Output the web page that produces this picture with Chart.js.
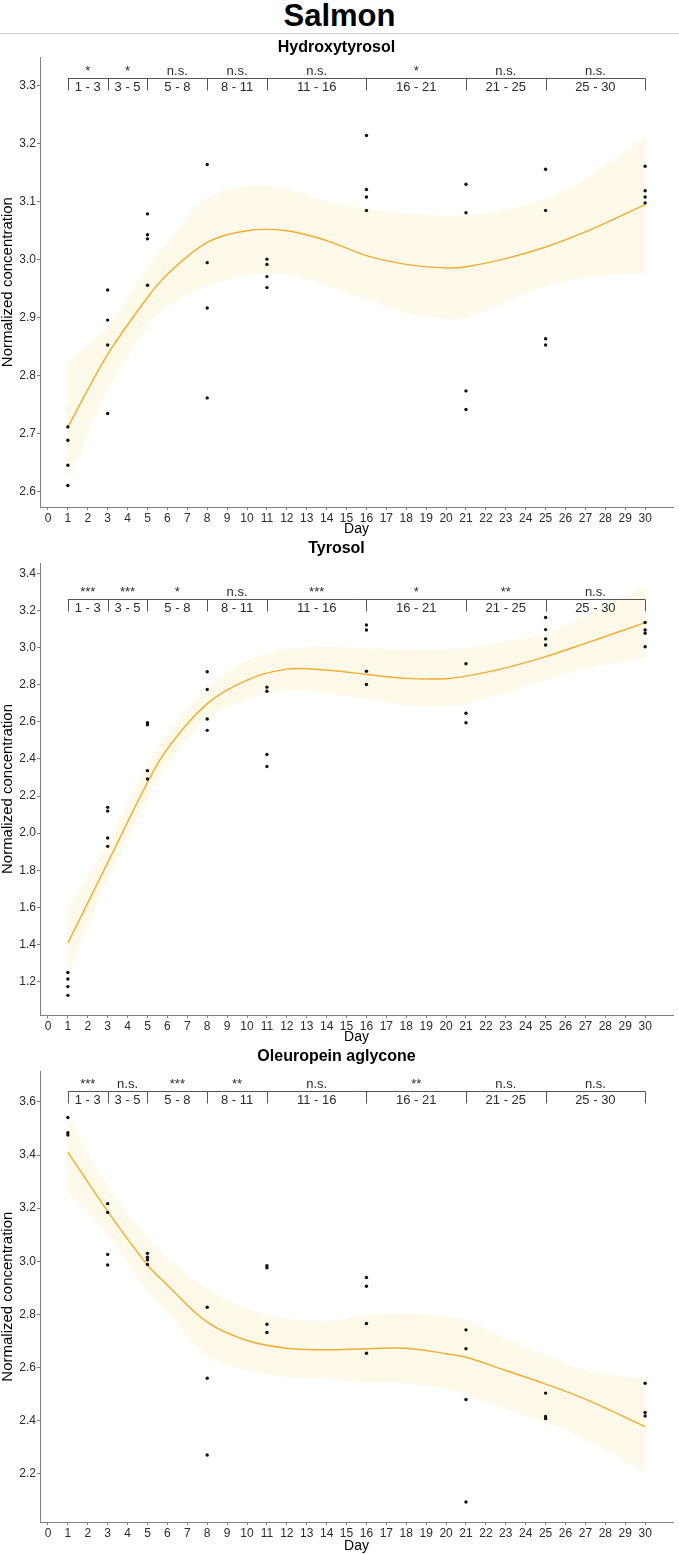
<!DOCTYPE html>
<html lang="en">
<head>
<meta charset="UTF-8">
<title>Salmon</title>
<script src="https://cdn.jsdelivr.net/npm/chart.js"></script>
<style>
    body {
        margin: 0;
        background: #fff;
        font-family: "Liberation Sans", Arial, sans-serif;
    }
    #page {
        position: relative;
        width: 679px;
        height: 1554px;
        overflow: hidden;
    }
    #main-title {
        position: absolute;
        top: 0;
        left: 0;
        width: 679px;
        text-align: center;
        font-size: 31px;
        font-weight: bold;
        line-height: 32px;
        color: #000;
    }
    #rule {
        position: absolute;
        top: 33px;
        left: 0;
        width: 679px;
        height: 1px;
        background: #cfcfcf;
    }
    .panel {
        position: absolute;
        left: 0;
        width: 679px;
    }
</style>
</head>
<body>
<div id="page">
    <div id="main-title">Salmon</div>
    <div id="rule"></div>
    <div class="panel" style="top:36px;height:501px;"><canvas id="htChart"></canvas></div>
    <div class="panel" style="top:537px;height:508px;"><canvas id="tyChart"></canvas></div>
    <div class="panel" style="top:1045px;height:509px;"><canvas id="olChart"></canvas></div>
</div>

<script>
    // sampling days and replicate values (one inner array per day)
    const obsDays = [1, 3, 5, 8, 11, 16, 21, 25, 30];

    const htObs = [
        [2.712, 2.689, 2.646, 2.611],
        [2.948, 2.896, 2.853, 2.735],
        [3.079, 3.043, 3.036, 2.956],
        [3.164, 2.995, 2.917, 2.762],
        [3.001, 2.992, 2.971, 2.952],
        [3.214, 3.121, 3.108, 3.085],
        [3.130, 3.081, 2.774, 2.742],
        [3.156, 3.085, 2.864, 2.853],
        [3.161, 3.119, 3.108, 3.098]
    ];
    const tyObs = [
        [1.249, 1.214, 1.173, 1.126],
        [2.139, 2.119, 1.974, 1.929],
        [2.595, 2.584, 2.337, 2.292],
        [2.870, 2.774, 2.615, 2.554],
        [2.787, 2.765, 2.424, 2.359],
        [3.122, 3.095, 2.873, 2.801],
        [2.913, 2.646, 2.595],
        [3.162, 3.097, 3.047, 3.014],
        [3.135, 3.095, 3.077, 3.005]
    ];
    const olObs = [
        [3.541, 3.484, 3.475],
        [3.217, 3.184, 3.026, 2.986],
        [3.030, 3.015, 3.006, 2.988],
        [2.827, 2.560, 2.271],
        [2.983, 2.976, 2.763, 2.732],
        [2.939, 2.906, 2.766, 2.654],
        [2.742, 2.671, 2.480, 2.094],
        [2.504, 2.416, 2.408],
        [2.541, 2.431, 2.418]
    ];

    // smoothed trend and confidence band, read at these days
    const fitDays = [1, 3, 5, 6, 8, 10, 12, 14, 16, 18, 20, 21, 23, 25, 27, 30];

    const htFit   = [2.712, 2.837, 2.935, 2.975, 3.030, 3.050, 3.050, 3.033, 3.007, 2.992, 2.986, 2.988, 3.002, 3.022, 3.048, 3.095];
    const htUpper = [2.823, 2.885, 2.985, 3.030, 3.105, 3.127, 3.122, 3.100, 3.088, 3.080, 3.076, 3.077, 3.085, 3.105, 3.140, 3.211];
    const htLower = [2.620, 2.775, 2.885, 2.920, 2.955, 2.973, 2.975, 2.955, 2.932, 2.909, 2.898, 2.900, 2.927, 2.955, 2.970, 2.978];

    const tyFit   = [1.408, 1.841, 2.274, 2.455, 2.698, 2.825, 2.884, 2.879, 2.855, 2.834, 2.832, 2.846, 2.891, 2.951, 3.023, 3.135];
    const tyUpper = [1.588, 1.949, 2.364, 2.530, 2.779, 2.930, 2.990, 3.005, 2.996, 2.988, 2.990, 2.996, 3.030, 3.077, 3.177, 3.330];
    const tyLower = [1.245, 1.751, 2.184, 2.370, 2.617, 2.720, 2.770, 2.755, 2.725, 2.690, 2.685, 2.698, 2.760, 2.825, 2.888, 2.942];

    const olFit   = [3.411, 3.188, 2.986, 2.910, 2.771, 2.702, 2.673, 2.667, 2.671, 2.673, 2.652, 2.639, 2.589, 2.538, 2.481, 2.378];
    const olUpper = [3.547, 3.282, 3.087, 3.010, 2.898, 2.820, 2.785, 2.775, 2.797, 2.803, 2.790, 2.778, 2.708, 2.645, 2.589, 2.557];
    const olLower = [3.263, 3.099, 2.891, 2.810, 2.645, 2.590, 2.565, 2.557, 2.544, 2.540, 2.520, 2.500, 2.444, 2.393, 2.330, 2.204];

    // pairwise comparison brackets
    const segments = [[1, 3], [3, 5], [5, 8], [8, 11], [11, 16], [16, 21], [21, 25], [25, 30]];
    const htSig = ['*', '*', 'n.s.', 'n.s.', 'n.s.', '*', 'n.s.', 'n.s.'];
    const tySig = ['***', '***', '*', 'n.s.', '***', '*', '**', 'n.s.'];
    const olSig = ['***', 'n.s.', '***', '**', 'n.s.', '**', 'n.s.', 'n.s.'];

    // axis ticks
    const xTickVals = Array.from({ length: 31 }, (_, i) => i);
    const htTicks = [2.6, 2.7, 2.8, 2.9, 3.0, 3.1, 3.2, 3.3];
    const tyTicks = [1.2, 1.4, 1.6, 1.8, 2.0, 2.2, 2.4, 2.6, 2.8, 3.0, 3.2, 3.4];
    const olTicks = [2.2, 2.4, 2.6, 2.8, 3.0, 3.2, 3.4, 3.6];

    const FONT = '"Liberation Sans", Arial, sans-serif';
    const AXIS_GREY = '#7f7f7f';
    const TEXT = '#2b2b2b';

    // draws the comparison brackets through the chart scales
    const bracketPlugin = {
        id: 'brackets',
        afterDatasetsDraw(chart, args, opts) {
            const { ctx } = chart;
            const x = chart.scales.x;
            const y = chart.scales.y;
            const lineY = Math.round(y.getPixelForValue(opts.level)) + 0.5;
            const x0 = x.getPixelForValue(segments[0][0]);
            const x1 = x.getPixelForValue(segments[segments.length - 1][1]);
            ctx.save();
            ctx.strokeStyle = '#555';
            ctx.lineWidth = 1;
            ctx.beginPath();
            ctx.moveTo(x0, lineY);
            ctx.lineTo(x1, lineY);
            const bounds = [segments[0][0]].concat(segments.map(s => s[1]));
            bounds.forEach(d => {
                const px = Math.round(x.getPixelForValue(d)) + 0.5;
                ctx.moveTo(px, lineY);
                ctx.lineTo(px, lineY + 12);
            });
            ctx.stroke();

            ctx.fillStyle = TEXT;
            ctx.textAlign = 'center';
            ctx.font = '13px ' + FONT;
            segments.forEach((s, i) => {
                const cx = (x.getPixelForValue(s[0]) + x.getPixelForValue(s[1])) / 2;
                ctx.textBaseline = 'middle';
                ctx.fillText(s[0] + ' - ' + s[1], cx, lineY + 8.5);
                const sig = opts.sig[i];
                ctx.textBaseline = 'alphabetic';
                if (sig.indexOf('*') >= 0) {
                    ctx.fillText(sig, cx, lineY - 4);
                } else {
                    ctx.fillText(sig, cx, lineY - 4);
                }
            });
            ctx.restore();
        }
    };

    const makeChart = (canvasId, title, obs, fit, upper, lower, yMin, yMax, yTicks, sig, level, titlePadBottom, xAxisHeight) => {
        const points = [];
        obsDays.forEach((d, i) => {
            obs[i].forEach(v => points.push({ x: d, y: v }));
        });
        const toXY = arr => fitDays.map((d, i) => ({ x: d, y: arr[i] }));

        return new Chart(document.getElementById(canvasId), {
            type: 'line',
            data: {
                datasets: [
                    {
                        data: toXY(upper),
                        borderWidth: 0,
                        borderColor: 'rgba(0,0,0,0)',
                        backgroundColor: 'rgba(252, 231, 170, 0.27)',
                        pointRadius: 0,
                        fill: '+1',
                        tension: 0.35,
                        order: 3
                    },
                    {
                        data: toXY(lower),
                        borderWidth: 0,
                        borderColor: 'rgba(0,0,0,0)',
                        pointRadius: 0,
                        fill: false,
                        tension: 0.35,
                        order: 3
                    },
                    {
                        data: toXY(fit),
                        borderColor: '#f0ad30',
                        borderWidth: 1.4,
                        pointRadius: 0,
                        fill: false,
                        tension: 0.35,
                        order: 2
                    },
                    {
                        type: 'scatter',
                        data: points,
                        backgroundColor: '#111',
                        borderWidth: 0,
                        pointRadius: 1.7,
                        showLine: false,
                        order: 1
                    }
                ]
            },
            options: {
                responsive: true,
                maintainAspectRatio: false,
                animation: false,
                events: [],
                layout: { padding: { left: 0, right: 6, top: 0, bottom: 0 } },
                plugins: {
                    legend: { display: false },
                    tooltip: { enabled: false },
                    title: {
                        display: true,
                        text: title,
                        color: '#000',
                        font: { family: FONT, size: 16, weight: 'bold', lineHeight: 1.2 },
                        padding: { top: 2, bottom: titlePadBottom }
                    },
                    brackets: { sig: sig, level: level }
                },
                scales: {
                    x: {
                        type: 'linear',
                        min: -0.4,
                        max: 31.4,
                        afterBuildTicks: s => { s.ticks = xTickVals.map(v => ({ value: v })); },
                        afterFit: s => { s.height = xAxisHeight; },
                        grid: { drawOnChartArea: false, drawTicks: true, tickLength: 3, color: AXIS_GREY },
                        border: { color: AXIS_GREY, width: 1 },
                        ticks: {
                            color: TEXT,
                            padding: 1,
                            maxRotation: 0,
                            autoSkip: false,
                            font: { family: FONT, size: 12 },
                            callback: v => String(v)
                        },
                        title: {
                            display: true,
                            text: 'Day',
                            color: '#000',
                            font: { family: FONT, size: 14, lineHeight: 1 },
                            padding: { top: 0, bottom: 1 }
                        }
                    },
                    y: {
                        type: 'linear',
                        min: yMin,
                        max: yMax,
                        afterBuildTicks: s => { s.ticks = yTicks.map(v => ({ value: v })); },
                        afterFit: s => { s.width = 40; },
                        grid: { drawOnChartArea: false, drawTicks: true, tickLength: 3, color: AXIS_GREY },
                        border: { color: AXIS_GREY, width: 1 },
                        ticks: {
                            color: TEXT,
                            padding: 1,
                            font: { family: FONT, size: 12 },
                            callback: v => Number(v).toFixed(1)
                        },
                        title: {
                            display: true,
                            text: 'Normalized concentration',
                            color: '#000',
                            font: { family: FONT, size: 15, lineHeight: 1.1 },
                            padding: { top: 0, bottom: 0 }
                        }
                    }
                }
            },
            plugins: [bracketPlugin]
        });
    };

    makeChart('htChart', 'Hydroxytyrosol', htObs, htFit, htUpper, htLower,
        2.574, 3.349, htTicks, htSig, 3.314, 0, 30);
    makeChart('tyChart', 'Tyrosol', tyObs, tyFit, tyUpper, tyLower,
        1.02, 3.456, tyTicks, tySig, 3.261, 4.8, 30);
    makeChart('olChart', 'Oleuropein aglycone', olObs, olFit, olUpper, olLower,
        2.019, 3.715, olTicks, olSig, 3.642, 5.1, 32);
</script>
</body>
</html>
